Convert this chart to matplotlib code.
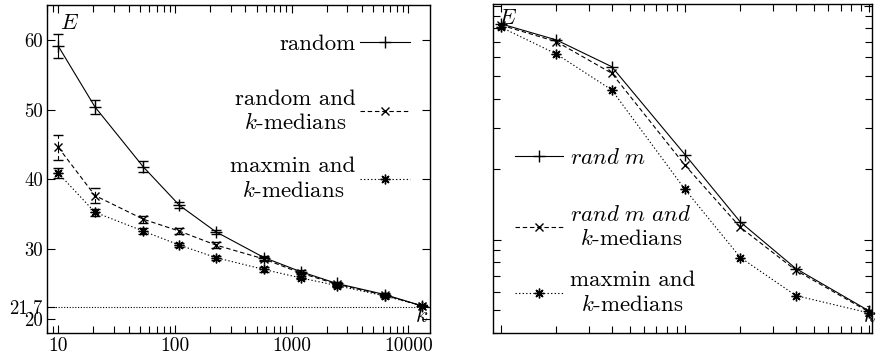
import matplotlib
matplotlib.use('Agg')
import matplotlib.pyplot as plt
from matplotlib.ticker import FixedLocator, NullFormatter, LogLocator, FixedFormatter

plt.rcParams.update({
    'font.family': 'serif', 'font.serif': ['cmr10'], 'mathtext.fontset': 'cm',
    'axes.unicode_minus': False, 'font.size': 16, 'axes.formatter.use_mathtext': True,
    'xtick.labelsize': 14, 'ytick.labelsize': 13.5,
})

# ---------------- left panel data ----------------
k_left = [10, 20.6, 53.5, 109, 224, 580, 1190, 2430, 6300, 13000]
random_E = [59.1, 50.4, 41.8, 36.3, 32.5, 28.8, 26.8, 25.1, 23.5, 21.9]
random_err = [1.7, 1.0, 0.8, 0.4, 0.3, 0.3, 0.2, 0.2, 0.2, 0.1]
rkm_E = [44.6, 37.7, 34.3, 32.6, 30.6, 28.6, 26.6, 25.0, 23.4, 21.9]
rkm_err = [1.8, 1.1, 0.5, 0.4, 0.4, 0.3, 0.2, 0.2, 0.2, 0.1]
mm_E = [40.9, 35.3, 32.6, 30.6, 28.8, 27.1, 25.9, 24.8, 23.3, 21.9]
mm_err = [0.7, 0.5, 0.4, 0.3, 0.3, 0.3, 0.2, 0.2, 0.2, 0.1]
optimum = 21.7
left_yticks = [20, 21.7, 30, 40, 50, 60]
left_yticklabels = ['20', '21.7', '30', '40', '50', '60']
left_xticks = [10, 100, 1000, 10000]
left_xticklabels = ['10', '100', '1000', '10000']
left_labels = ['random', 'random and\n$k$-medians', 'maxmin and\n$k$-medians']

# ---------------- right panel data ----------------
k_right = [10, 20, 40, 100, 200, 400, 1000]
randm_E = [8.35, 7.13, 5.48, 2.31, 1.19, 0.754, 0.497]
randm_km_E = [8.25, 7.01, 5.14, 2.08, 1.13, 0.741, 0.492]
mm_km_E = [8.08, 6.21, 4.36, 1.64, 0.840, 0.578, 0.487]
right_labels = ['$rand\\ m$', '$rand\\ m\\ and$\n$k$-medians', 'maxmin and\n$k$-medians']

ast = (8, 2, 0)
styles = [
    dict(ls='-', marker='+', ms=8, mew=1.0),
    dict(ls=(0, (4, 2.5)), marker='x', ms=6, mew=1.0),
    dict(ls=(0, (1.2, 2)), marker=ast, ms=7, mew=1.0),
]

fig = plt.figure(figsize=(8.76, 3.57), dpi=100)
axL = fig.add_axes([47/876, 1-333/357, (430-47)/876, (333-5)/357])
axR = fig.add_axes([493/876, 1-333/357, (872-493)/876, (333-4)/357])

# ---------- left ----------
handlesL = []
for ys, es, st in zip([random_E, rkm_E, mm_E], [random_err, rkm_err, mm_err], styles):
    cont = axL.errorbar(k_left, ys, yerr=es, color='black', lw=0.8, capsize=3.5,
                        elinewidth=0.8, capthick=0.8, **st)
    for bl in cont[2]:
        bl.set_linestyle(st['ls'])
    handlesL.append(cont[0])
axL.axhline(optimum, color='black', lw=0.8, ls=(0, (1, 1.5)))
axL.set_xscale('log')
axL.set_xlim(8.0, 15300)
axL.set_ylim(18, 65)
axL.xaxis.set_major_locator(FixedLocator(left_xticks))
axL.xaxis.set_major_formatter(FixedFormatter(left_xticklabels))
axL.xaxis.set_minor_locator(LogLocator(base=10, subs=range(2, 10)))
axL.xaxis.set_minor_formatter(NullFormatter())
axL.yaxis.set_major_locator(FixedLocator(left_yticks))
axL.yaxis.set_major_formatter(FixedFormatter(left_yticklabels))
axL.tick_params(which='both', direction='in', top=True, right=True, width=0.8)
axL.tick_params(which='major', length=6, pad=3)
axL.tick_params(which='minor', length=5)
axL.text(0.034, 0.975, '$E$', transform=axL.transAxes, ha='left', va='top')
axL.text(0.995, 0.02, '$k$', transform=axL.transAxes, ha='right', va='bottom')

ycL = [0.881, 0.677, 0.470]
for i, (h, lab, yc) in enumerate(zip(handlesL, left_labels, ycL)):
    leg = axL.legend([h], [lab], loc='center right', bbox_to_anchor=(0.948, yc),
                     frameon=False, markerfirst=False, handlelength=2.2,
                     handletextpad=0.18, borderpad=0, borderaxespad=0, numpoints=1,
                     fontsize=16.5)
    for t in leg.get_texts():
        t.set_multialignment('center')
    if i < len(handlesL) - 1:
        axL.add_artist(leg)

# ---------- right ----------
handlesR = []
for ys, st in zip([randm_E, randm_km_E, mm_km_E], styles):
    ln, = axR.plot(k_right, ys, color='black', lw=0.8, **st)
    handlesR.append(ln)
axR.set_xscale('log')
axR.set_yscale('log')
axR.set_xlim(9.05, 1038)
axR.set_ylim(0.4, 10.15)
for axis in (axR.xaxis, axR.yaxis):
    axis.set_major_locator(LogLocator(base=10))
    axis.set_minor_locator(LogLocator(base=10, subs=range(2, 10)))
    axis.set_major_formatter(NullFormatter())
    axis.set_minor_formatter(NullFormatter())
axR.tick_params(which='both', direction='in', top=True, right=True, width=0.8)
axR.tick_params(which='major', length=6)
axR.tick_params(which='minor', length=5)
axR.text(0.013, 0.985, '$E$', transform=axR.transAxes, ha='left', va='top')
axR.text(1.01, 0.02, '$k$', transform=axR.transAxes, ha='right', va='bottom', clip_on=False)

ycR = [0.532, 0.322, 0.122]
for i, (h, lab, yc) in enumerate(zip(handlesR, right_labels, ycR)):
    leg = axR.legend([h], [lab], loc='center left', bbox_to_anchor=(0.058, yc),
                     frameon=False, markerfirst=True, handlelength=2.1,
                     handletextpad=0.3, borderpad=0, borderaxespad=0, numpoints=1,
                     fontsize=16.5)
    for t in leg.get_texts():
        t.set_multialignment('center')
    if i < len(handlesR) - 1:
        axR.add_artist(leg)

for ax in (axL, axR):
    for s in ax.spines.values():
        s.set_linewidth(1.0)

fig.savefig('out.png', dpi=100)
